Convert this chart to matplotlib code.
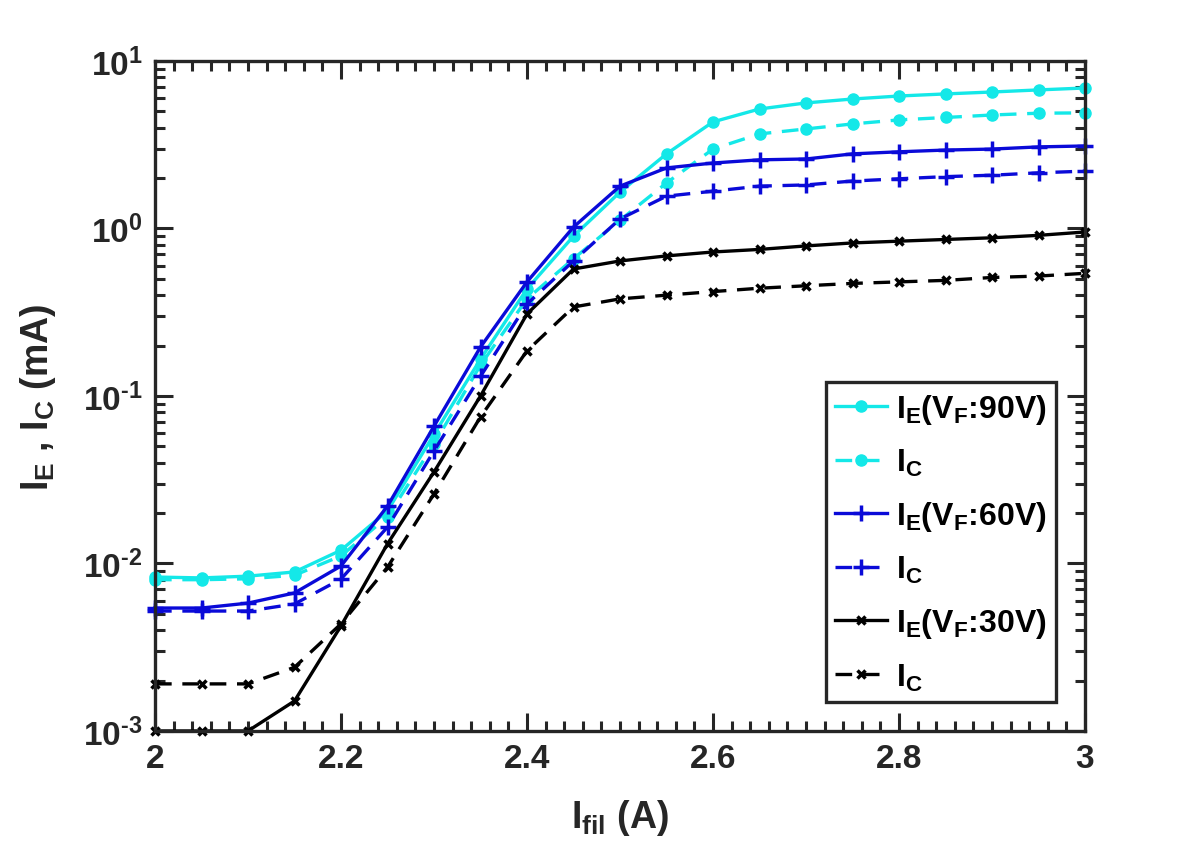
import numpy as np
import matplotlib
matplotlib.use("Agg")
from matplotlib import pyplot as plt

# filament current (A)
i_fil = [2.00, 2.05, 2.10, 2.15, 2.20, 2.25, 2.30, 2.35, 2.40, 2.45, 2.50,
         2.55, 2.60, 2.65, 2.70, 2.75, 2.80, 2.85, 2.90, 2.95, 3.00]

# currents (mA)
ie_90 = [0.0083, 0.0082, 0.0084, 0.0089, 0.0120, 0.0206, 0.059, 0.166, 0.436, 0.90, 1.65,
         2.79, 4.33, 5.17, 5.62, 5.93, 6.18, 6.36, 6.53, 6.72, 6.90]
ic_90 = [0.0080, 0.0080, 0.0081, 0.0085, 0.0111, 0.0190, 0.0516, 0.153, 0.38, 0.66, 1.12,
         1.87, 2.98, 3.67, 3.93, 4.21, 4.45, 4.60, 4.76, 4.88, 4.90]
ie_60 = [0.00542, 0.00542, 0.0058, 0.00667, 0.00966, 0.022, 0.066, 0.196, 0.48, 1.02, 1.79,
         2.30, 2.46, 2.57, 2.60, 2.79, 2.87, 2.94, 2.98, 3.07, 3.11]
ic_60 = [0.0052, 0.0052, 0.0052, 0.00573, 0.00807, 0.0165, 0.047, 0.131, 0.354, 0.64, 1.14,
         1.56, 1.67, 1.79, 1.82, 1.92, 1.98, 2.04, 2.08, 2.15, 2.20]
ie_30 = [0.0010, 0.0010, 0.0010, 0.00151, 0.00424, 0.0131, 0.0352, 0.100, 0.309, 0.573, 0.64,
         0.686, 0.724, 0.75, 0.787, 0.82, 0.84, 0.86, 0.88, 0.91, 0.953]
ic_30 = [0.00191, 0.00191, 0.00191, 0.0024, 0.00436, 0.0095, 0.026, 0.075, 0.186, 0.34, 0.38,
         0.40, 0.42, 0.44, 0.455, 0.47, 0.48, 0.49, 0.51, 0.52, 0.54]

labels = [r'$I_E(V_F$:90V)', r'$I_C$', r'$I_E(V_F$:60V)', r'$I_C$',
          r'$I_E(V_F$:30V)', r'$I_C$']

xticks = [2, 2.2, 2.4, 2.6, 2.8, 3]
xticklabels = ['2', '2.2', '2.4', '2.6', '2.8', '3']
yticks = [1e-3, 1e-2, 1e-1, 1e0, 1e1]
yticklabels = ['10$^{\\text{-}3}$', '10$^{\\text{-}2}$', '10$^{\\text{-}1}$',
               '10$^{0}$', '10$^{1}$']

plt.rcParams['font.family'] = ['Liberation Sans', 'DejaVu Sans']
plt.rcParams['font.weight'] = 'bold'
plt.rcParams['axes.labelweight'] = 'bold'
plt.rcParams['mathtext.fontset'] = 'custom'
plt.rcParams['mathtext.rm'] = 'Liberation Sans:bold'
plt.rcParams['mathtext.it'] = 'Liberation Sans:bold'
plt.rcParams['mathtext.bf'] = 'Liberation Sans:bold'
plt.rcParams['mathtext.default'] = 'rm'

dark = '#262626'
cyan = '#14e8e8'
blue = '#0a0ad8'

fig = plt.figure(figsize=(11.96, 8.54), dpi=100)
ax = fig.add_axes([0.1296, 0.1429, 0.7776, 0.7845])

lw = 2.4
dash = (5, 3.2)
ax.plot(i_fil, ie_90, '-', color=cyan, lw=lw, marker='o', ms=8, label=labels[0], clip_on=False)
ax.plot(i_fil, ic_90, '--', color=cyan, lw=lw, marker='o', ms=8, dashes=dash, label=labels[1], clip_on=False)
ax.plot(i_fil, ie_60, '-', color=blue, lw=lw, marker='+', ms=11, mew=2.5, label=labels[2], clip_on=False)
ax.plot(i_fil, ic_60, '--', color=blue, lw=lw, marker='+', ms=11, mew=2.5, dashes=dash, label=labels[3], clip_on=False)
ax.plot(i_fil, ie_30, '-', color='black', lw=lw, marker='x', ms=6, mew=2.5, label=labels[4], clip_on=False)
ax.plot(i_fil, ic_30, '--', color='black', lw=lw, marker='x', ms=6, mew=2.5, dashes=dash, label=labels[5], clip_on=False)

ax.set_yscale('log')
ax.set_xlim(2, 3)
ax.set_ylim(1e-3, 1e1)
ax.set_xticks(xticks)
ax.set_xticklabels(xticklabels)
ax.set_xticks(np.arange(2, 3.001, 0.02), minor=True)
ax.set_yticks(yticks)
ax.set_yticklabels(yticklabels)

for s in ax.spines.values():
    s.set_linewidth(2.4)
    s.set_color(dark)
ax.tick_params(which='both', direction='in', top=True, right=True, color=dark,
               labelcolor=dark, labelsize=24, width=2.2)
ax.tick_params(which='major', length=13, pad=9)
ax.tick_params(which='minor', length=7)
ax.tick_params(axis='y', which='minor', labelleft=False)

ax.set_xlabel(r'$I_{fil}$ (A)', fontsize=27, color=dark, labelpad=16)
ax.set_ylabel(r'$I_E$ , $I_C$ (mA)', fontsize=27, color=dark, labelpad=18)

leg = ax.legend(loc='lower right', fontsize=23, frameon=True, fancybox=False,
                edgecolor=dark, framealpha=1, handlelength=1.6, handletextpad=0.3,
                borderaxespad=0.9, labelspacing=0.66, borderpad=0.3)
leg.get_frame().set_linewidth(2.4)

fig.savefig('out.png', dpi=100)
